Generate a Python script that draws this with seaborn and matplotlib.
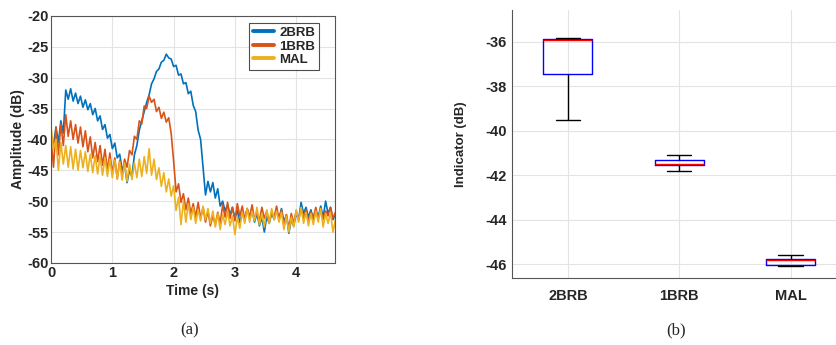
import numpy as np
import pandas as pd
import matplotlib
matplotlib.use('Agg')
import matplotlib.pyplot as plt
import seaborn as sns

dt = 0.04
amp_2brb = [-39.5, -41, -38, -40.5, -37, -39, -32, -33.5, -31.8, -33.8,
            -32.5, -34.2, -33, -34.8, -33.6, -35.2, -34.2, -36, -35, -37,
            -36.2, -38.4, -37.6, -39.8, -39.2, -41.5, -40.6, -43, -42.4, -45,
            -44, -47, -45, -46, -42.5, -41, -38.5, -37, -35.5, -34,
            -32.8, -31, -30.2, -29, -28.6, -27.5, -27.2, -26.2, -26.8, -27,
            -28.2, -28, -29.6, -29.4, -31, -30.8, -32.6, -32.2, -34.5, -35.5,
            -38.5, -40, -44.5, -49, -46.8, -48.5, -47, -49.5, -48, -50.8,
            -50, -51.6, -50.6, -52.2, -51, -52.8, -51.5, -53.5, -51.8, -53,
            -51.2, -52.8, -51.5, -53.4, -52, -54, -52.6, -55, -52.5, -53.6,
            -51.8, -53, -51.6, -52.8, -51.2, -53.4, -52.2, -55.2, -53, -54,
            -52, -53, -50.2, -52, -51, -52.6, -51.4, -53, -51.8, -52.6,
            -50.8, -52.6, -50, -52, -51, -53, -52.2]
amp_1brb = [-40, -44.5, -38, -42.5, -37.5, -41, -36, -39.5, -37, -40,
            -37.6, -40.6, -38, -41.2, -38.6, -42, -39.6, -43, -40.5, -43.6,
            -41, -44.2, -41.6, -45, -42.2, -45.5, -43, -46.4, -43.4, -45.8,
            -43.2, -44.5, -41.8, -42.5, -39.5, -40, -37, -37.5, -34.6, -35,
            -33, -34, -33.5, -35.5, -34.8, -36.6, -35.6, -37.2, -36.5, -39,
            -43.5, -48.5, -47.2, -50.2, -48.8, -51.4, -49.5, -52, -50.4, -52.6,
            -50.2, -52.8, -51, -53.4, -51.6, -54, -52.4, -53.8, -51.8, -53.6,
            -50.6, -52.6, -50.2, -52.8, -51, -53.2, -50.4, -52.4, -50.8, -53,
            -51.2, -52.6, -50.6, -53, -51.8, -53.2, -51, -52.8, -51.6, -53.4,
            -52, -52.6, -50.8, -53, -51.4, -54, -52.2, -54.4, -52, -53.6,
            -51.6, -53, -51.2, -52.8, -51.4, -53.2, -51.8, -52.6, -51, -52.8,
            -51.4, -53, -51.6, -52.4, -51, -52.8, -51.8]
amp_mal = [-38, -41.5, -40, -45, -40.5, -44, -41, -44.5, -41.2, -44.8,
           -41.6, -45, -41.8, -44.6, -42, -45.2, -42.4, -45.4, -42.6, -45.6,
           -42.8, -45.8, -43, -46, -43.2, -46.2, -43.4, -46.4, -43.6, -46.6,
           -43.8, -46.8, -44, -46.5, -43.8, -46.2, -43.2, -46, -42.8, -45.5,
           -41.5, -45.8, -43.2, -46.5, -44.6, -47.6, -45.4, -48.5, -46.4, -49.2,
           -47.5, -51.5, -49.4, -53.8, -50, -53.4, -50.4, -53, -51, -53.6,
           -51.4, -53.2, -50.8, -53, -51.2, -53.6, -51.6, -54.2, -52, -54.6,
           -52.2, -53.8, -51.6, -54, -52.4, -55.4, -52.6, -54.4, -51.8, -53.6,
           -51.2, -53.4, -51.6, -53.2, -51, -53.8, -52, -54.2, -51.4, -53.6,
           -51.2, -53, -51.6, -53.4, -51.8, -54.6, -52.4, -55, -52.6, -54.2,
           -51.4, -53.4, -51, -53.6, -51.8, -54, -52, -53.8, -51.6, -53.4,
           -51.2, -54.2, -52, -53.6, -51.8, -55, -53]
series_names = ['2BRB', '1BRB', 'MAL']
series_colors = ['#0072BD', '#D95319', '#EDB120']

# --- (b) indicator values per fault class
classes = ['2BRB', '1BRB', 'MAL']
ind_2brb = [-39.5, -37.45, -35.9, -35.85, -35.8]
ind_1brb = [-41.8, -41.55, -41.5, -41.3, -41.1]
ind_mal = [-46.1, -46.05, -45.82, -45.78, -45.6]


def main():
    sns.set_style('whitegrid')
    plt.rcParams['font.family'] = ['Liberation Sans', 'DejaVu Sans']
    plt.rcParams['font.weight'] = 'bold'
    plt.rcParams['axes.labelweight'] = 'bold'
    plt.rcParams['axes.unicode_minus'] = False
    plt.rcParams['xtick.direction'] = 'in'
    plt.rcParams['ytick.direction'] = 'in'

    fig = plt.figure(figsize=(8.37, 3.45), dpi=100)
    ax1 = fig.add_axes([0.061, 0.238, 0.339, 0.716])
    ax2 = fig.add_axes([0.612, 0.194, 0.399, 0.777])

    # time series
    n = len(amp_2brb)
    t = np.round(np.arange(n) * dt, 2)
    df = pd.DataFrame({'Time': np.tile(t, 3),
                       'Amp': amp_2brb + amp_1brb + amp_mal,
                       'Signal': np.repeat(series_names, n)})
    sns.lineplot(data=df, x='Time', y='Amp', hue='Signal',
                 palette=series_colors, linewidth=1.2, ax=ax1,
                 estimator=None, sort=False)
    ax1.set_xlim(0, 4.63)
    ax1.set_ylim(-60, -20)
    ax1.set_xticks([0, 1, 2, 3, 4])
    ax1.set_yticks(range(-60, -19, 5))
    ax1.set_xlabel('Time (s)', fontsize=10, labelpad=3)
    ax1.set_ylabel('Amplitude (dB)', fontsize=10, labelpad=1)
    ax1.tick_params(labelsize=10.5, length=3, color='#444444', pad=2)
    ax1.grid(color='#e3e3e3', linewidth=0.8)
    for s in ax1.spines.values():
        s.set_color('#555555')
        s.set_linewidth(0.8)
    leg = ax1.legend(loc='upper right', bbox_to_anchor=(0.944, 0.972),
                     fontsize=9.5, frameon=True,
                     fancybox=False, handlelength=1.6, handletextpad=0.4,
                     borderpad=0.3, labelspacing=0.1,
                     borderaxespad=0.0)
    leg.get_frame().set_edgecolor('#222222')
    leg.get_frame().set_linewidth(0.8)
    for line in leg.get_lines():
        line.set_linewidth(2.8)
    for txt in leg.get_texts():
        txt.set_fontweight('bold')

    # box plot
    bdf = pd.DataFrame({'Class': np.repeat(classes, 5),
                        'Indicator': ind_2brb + ind_1brb + ind_mal})
    sns.boxplot(data=bdf, x='Class', y='Indicator', order=classes, ax=ax2,
                fill=False, color='blue', width=0.44, whis=1.5,
                linewidth=1.0,
                boxprops=dict(color='blue', linewidth=1.0),
                medianprops=dict(color='red', linewidth=1.0),
                whiskerprops=dict(color='black', linewidth=1.0),
                capprops=dict(color='black', linewidth=1.0),
                showfliers=False)
    ax2.set_xlim(-0.5, 2.5)
    ax2.set_ylim(-46.63, -34.56)
    ax2.set_yticks([-46, -44, -42, -40, -38, -36])
    ax2.set_xlabel('')
    ax2.set_ylabel('Indicator (dB)', fontsize=9.5, labelpad=13)
    ax2.tick_params(labelsize=10.5, length=3, color='#444444', pad=4)
    ax2.tick_params(axis='x', pad=8)
    ax2.grid(True, color='#e3e3e3', linewidth=0.8)
    ax2.spines['top'].set_visible(False)
    ax2.spines['right'].set_visible(False)
    for s in ('left', 'bottom'):
        ax2.spines[s].set_color('#555555')
        ax2.spines[s].set_linewidth(0.8)

    fig.text(0.227, 0.043, '(a)', fontsize=12, fontweight='normal',
             family='Liberation Serif', ha='center', va='center')
    fig.text(0.808, 0.043, '(b)', fontsize=12, fontweight='normal',
             family='Liberation Serif', ha='center', va='center')

    fig.savefig('out.png', dpi=100, facecolor='white')
    plt.close(fig)


if __name__ == "__main__":
    main()
